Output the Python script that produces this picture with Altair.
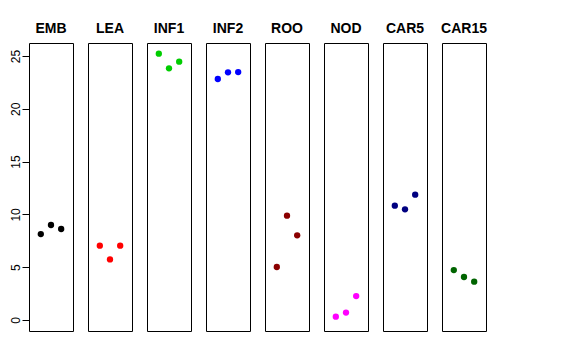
import altair as alt
import pandas as pd

groups = ["EMB", "LEA", "INF1", "INF2", "ROO", "NOD", "CAR5", "CAR15"]
colors = ["#000000", "#FF0000", "#00CD00", "#0000FF", "#8B0000", "#FF00FF", "#000080", "#006400"]
values = {
    "EMB": [8.14, 9.00, 8.62],
    "LEA": [7.04, 5.74, 7.04],
    "INF1": [25.22, 23.83, 24.46],
    "INF2": [22.82, 23.45, 23.48],
    "ROO": [5.02, 9.88, 8.02],
    "NOD": [0.32, 0.70, 2.27],
    "CAR5": [10.83, 10.48, 11.87],
    "CAR15": [4.73, 4.07, 3.63],
}
positions = [1, 2, 3]
y_ticks = [0, 5, 10, 15, 20, 25]

panels = []
for i, (g, c) in enumerate(zip(groups, colors)):
    df = pd.DataFrame({"x": positions, "y": values[g]})
    if i == 0:
        yaxis = alt.Axis(values=y_ticks, grid=False, domain=False, tickSize=7,
                         tickColor="#000000", labelAngle=270, labelAlign="center",
                         labelBaseline="bottom", labelPadding=0, labelFontSize=12,
                         labelFont="Liberation Sans", labelColor="#000000", title=None)
    else:
        yaxis = None
    ch = alt.Chart(df).mark_circle(size=40, opacity=1, color=c).encode(
        x=alt.X("x:Q", scale=alt.Scale(domain=[-0.16, 4.16], nice=False, zero=False), axis=None),
        y=alt.Y("y:Q", scale=alt.Scale(domain=[-1.04, 26.23], nice=False, zero=False), axis=yaxis),
    ).properties(
        width=44, height=288,
        title=alt.TitleParams(g, fontSize=14, fontWeight="bold", font="Liberation Sans",
                              color="#000000", anchor="middle", offset=7),
    )
    panels.append(ch)

chart = alt.hconcat(*panels, spacing=15, bounds="flush").properties(
    padding={"left": 0, "top": 13, "right": 5, "bottom": 5}
).configure(background="white").configure_view(stroke="#000000", strokeWidth=1)

chart.save("out.html", embed_options={"renderer": "svg", "actions": False})
